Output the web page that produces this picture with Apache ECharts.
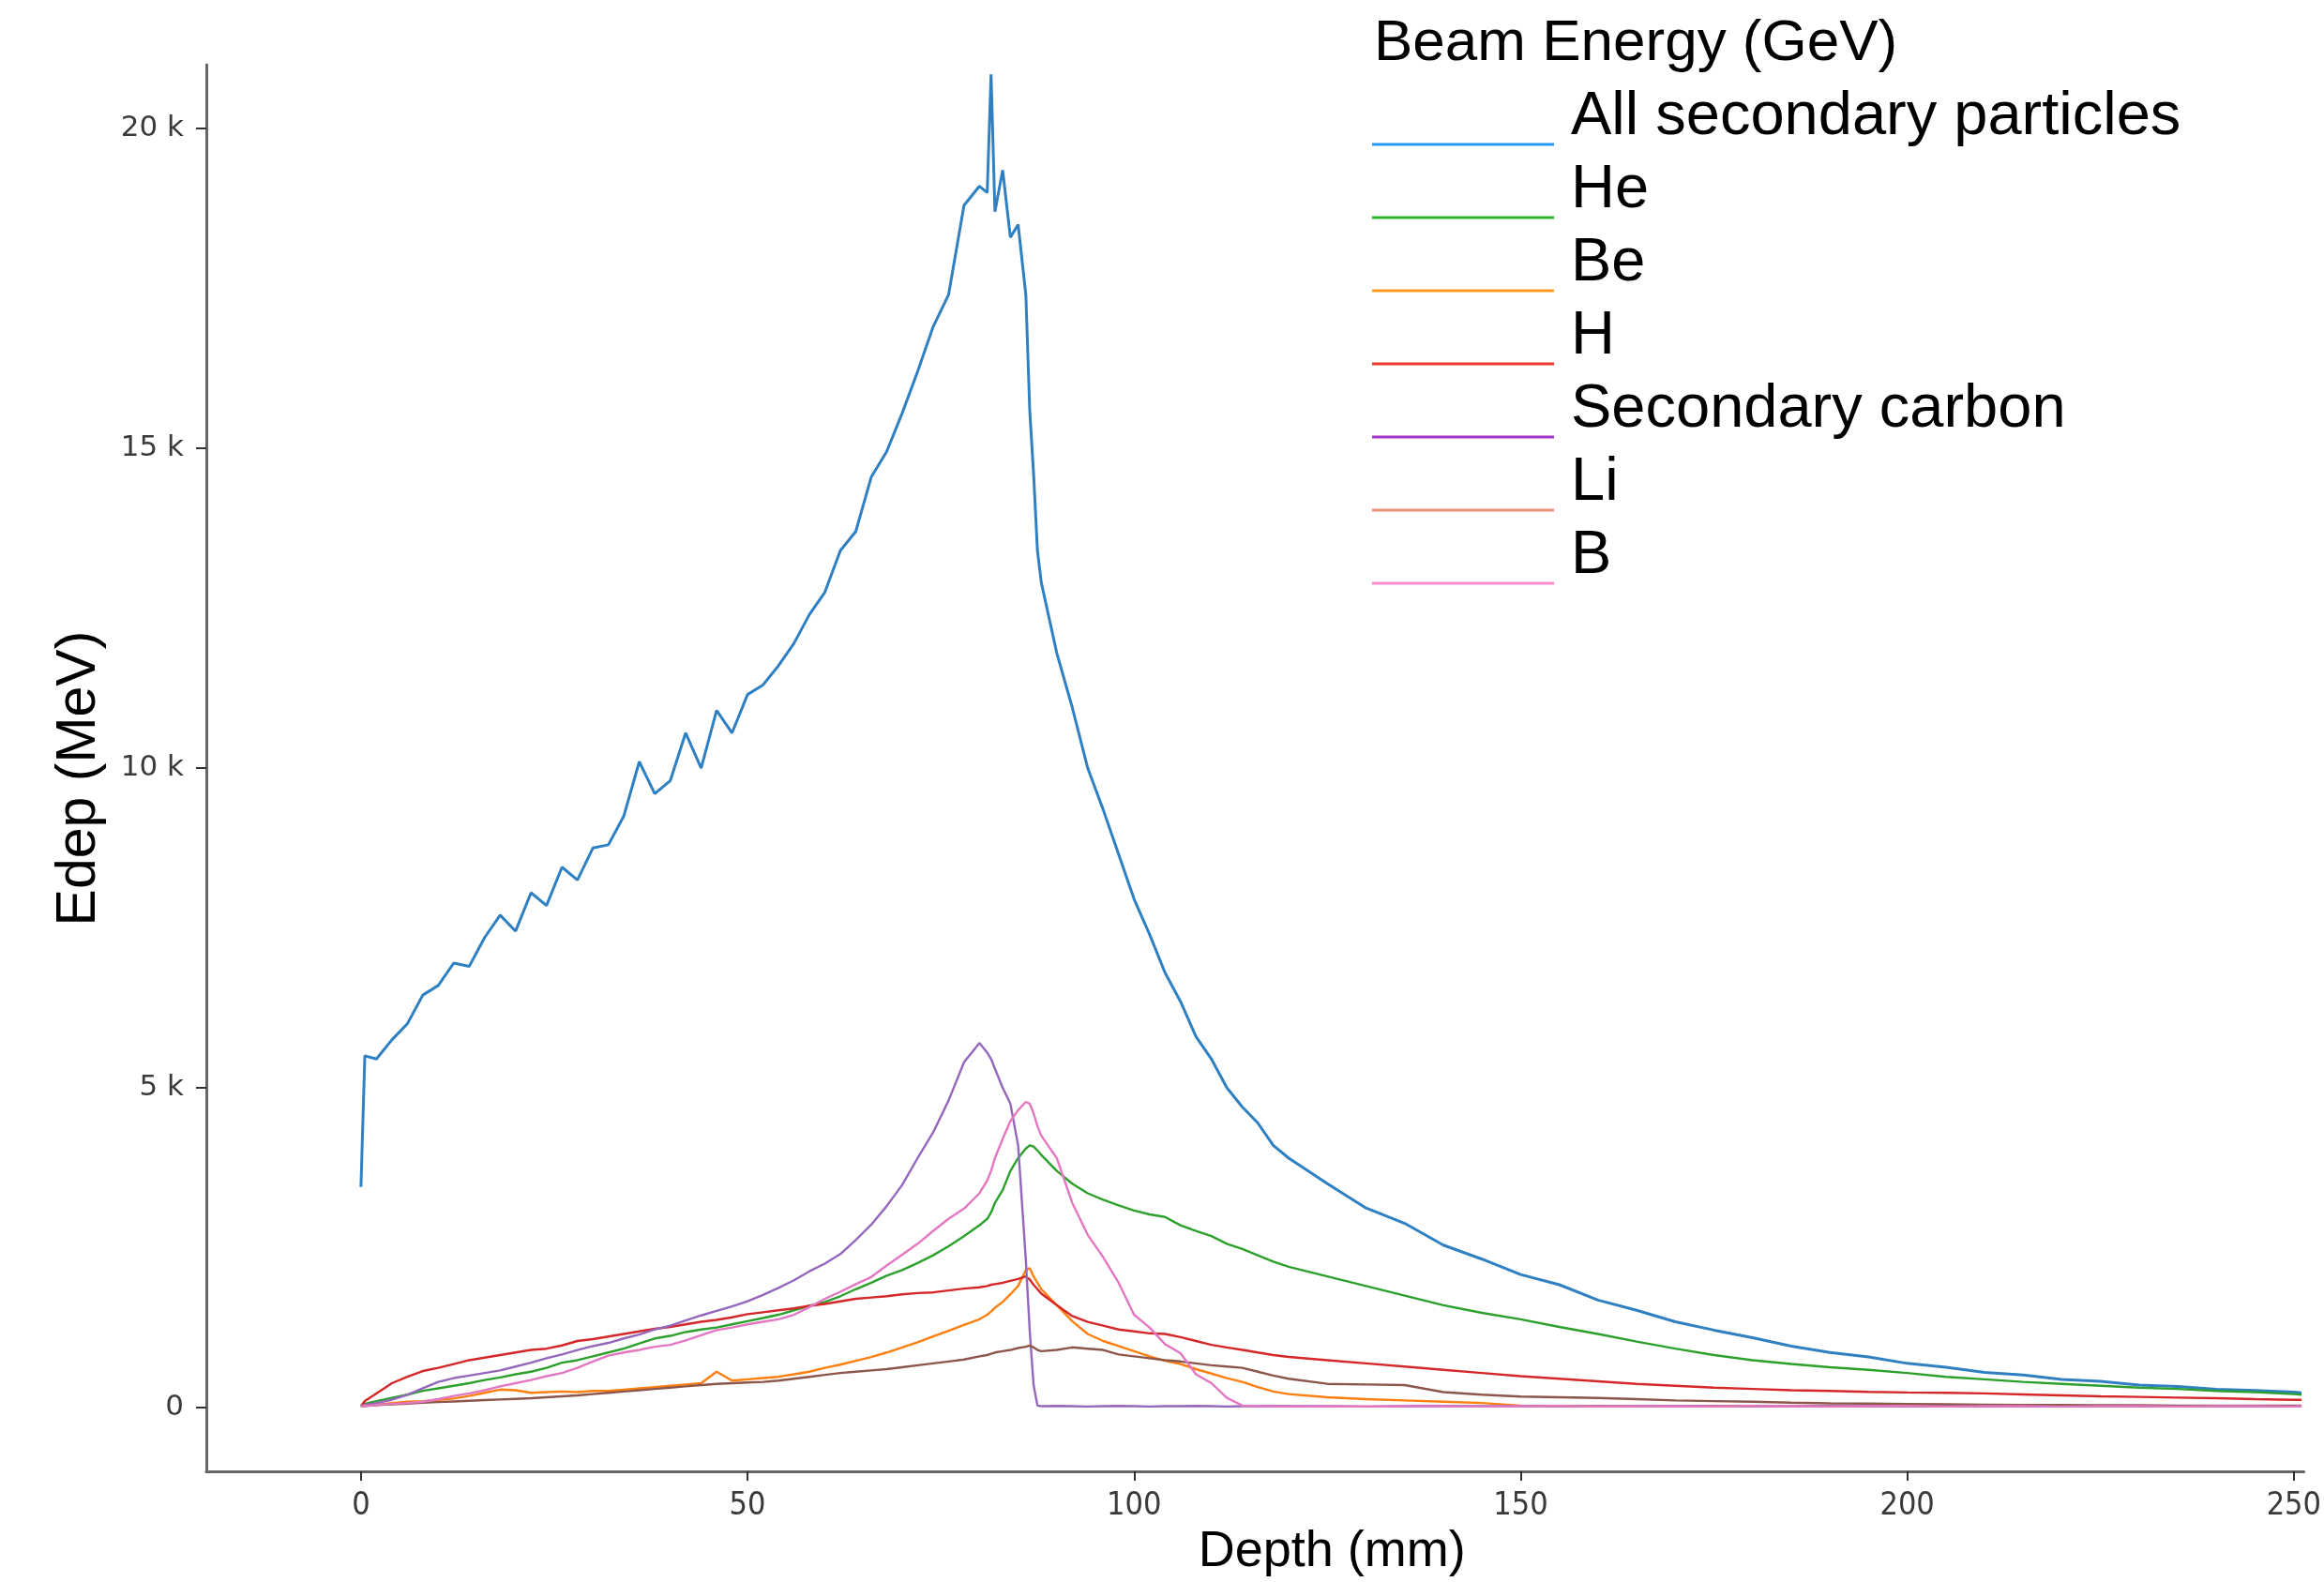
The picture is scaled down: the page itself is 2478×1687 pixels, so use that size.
<!DOCTYPE html>
<html>
<head>
<meta charset="utf-8">
<script src="https://cdn.jsdelivr.net/npm/echarts@6/dist/echarts.min.js"></script>
<style>
  html, body { margin: 0; padding: 0; background: #ffffff; }
  #chart { width: 2478px; height: 1687px; }
</style>
</head>
<body>
<div id="chart"></div>
<script>
// Depth grid (mm), shared by all series
const depth = [0, 0.5, 2, 4, 6, 8, 10, 12, 14, 16, 18, 20, 22, 24, 26, 28, 30, 32, 34, 36, 38, 40,
  42, 44, 46, 48, 50, 52, 54, 56, 58, 60, 62, 64, 66, 68, 70, 72, 74, 76, 78, 80,
  81, 81.5, 82, 83, 84, 85, 86, 86.5, 87, 87.5,
  88, 90, 92, 94, 96, 98, 100, 102, 104, 106, 108, 110, 112, 114, 116, 118, 120,
  125, 130, 135, 140, 145, 150, 155, 160, 165, 170, 175, 180, 185, 190, 195, 200,
  205, 210, 215, 220, 225, 230, 235, 240, 245, 250, 251];

// Energy deposit (MeV) per particle group
const allSecondary = [3450, 5500, 5450, 5750, 6000, 6450, 6600, 6950, 6900, 7350, 7700, 7450, 8050, 7850, 8450, 8250, 8750, 8800, 9250, 10100, 9600, 9800,
  10550, 10000, 10900, 10550, 11150, 11300, 11600, 11950, 12400, 12750, 13400, 13700, 14550, 14950, 15550, 16200, 16900, 17400, 18800, 19100,
  19000, 20850, 18700, 19350, 18300, 18500, 17400, 15600, 14600, 13400,
  12900, 11800, 10950, 10000, 9350, 8650, 7950, 7400, 6800, 6350, 5800, 5450, 5000, 4700, 4450, 4100, 3900,
  3500, 3120, 2880, 2540, 2320, 2080, 1920, 1680, 1520, 1340, 1210, 1090, 960, 860, 790, 690,
  630, 550, 510, 440, 410, 350, 330, 285, 265, 240, 230];

const helium = [20, 60, 100, 150, 200, 260, 300, 340, 380, 430, 470, 520, 560, 620, 700, 740, 800, 860, 920, 1000, 1080, 1120,
  1180, 1220, 1250, 1300, 1350, 1400, 1450, 1520, 1590, 1650, 1740, 1850, 1950, 2060, 2150, 2260, 2380, 2520, 2680, 2850,
  2950, 3050, 3200, 3400, 3700, 3900, 4050, 4100, 4080, 4020,
  3950, 3700, 3500, 3350, 3250, 3160, 3080, 3020, 2980, 2850, 2760, 2680, 2560, 2480, 2380, 2280, 2200,
  2050, 1900, 1750, 1600, 1480, 1380, 1260, 1150, 1030, 920, 820, 740, 680, 630, 590, 540,
  480, 440, 400, 370, 340, 310, 290, 260, 240, 210, 200];

const beryllium = [20, 30, 40, 70, 90, 100, 120, 140, 180, 230, 280, 270, 230, 240, 250, 240, 260, 260, 280, 300, 320, 340,
  360, 380, 560, 420, 440, 460, 480, 520, 560, 620, 670, 730, 790, 860, 940, 1020, 1110, 1200, 1290, 1380,
  1450, 1500, 1560, 1650, 1770, 1900, 2150, 2180, 2050, 1950,
  1850, 1600, 1350, 1150, 1040, 960, 880, 800, 730, 680, 600, 530, 460, 400, 320, 250, 210,
  160, 130, 110, 90, 70, 30, 20, 25, 20, 20, 25, 20, 20, 25, 20, 20,
  20, 25, 20, 20, 20, 25, 20, 20, 20, 20, 20];

const hydrogen = [20, 100, 220, 380, 480, 570, 620, 680, 740, 780, 820, 860, 900, 920, 970, 1040, 1070, 1110, 1150, 1190, 1230, 1260,
  1300, 1340, 1370, 1410, 1460, 1490, 1520, 1550, 1590, 1620, 1660, 1700, 1720, 1740, 1770, 1790, 1800, 1830, 1860, 1880,
  1900, 1920, 1930, 1950, 1980, 2010, 2050, 2000, 1920, 1850,
  1780, 1600, 1430, 1340, 1280, 1220, 1190, 1160, 1150, 1100, 1040, 980, 940, 900, 860, 820, 790,
  740, 690, 640, 590, 540, 490, 450, 410, 370, 340, 310, 290, 270, 260, 245, 235,
  230, 220, 205, 190, 175, 165, 155, 145, 130, 120, 120];

const secondaryCarbon = [20, 40, 70, 120, 200, 300, 400, 460, 500, 540, 580, 640, 700, 770, 830, 900, 960, 1010, 1080, 1140, 1220, 1280,
  1360, 1440, 1510, 1580, 1660, 1760, 1870, 1990, 2130, 2250, 2400, 2620, 2860, 3150, 3480, 3900, 4300, 4800, 5400, 5700,
  5550, 5450, 5300, 5000, 4750, 4100, 2300, 1200, 350, 30,
  20, 25, 20, 15, 20, 25, 20, 15, 20, 20, 25, 20, 15, 20, 20, 25, 20,
  20, 15, 20, 25, 20, 20, 15, 20, 20, 25, 20, 15, 20, 20, 20, 15,
  20, 20, 15, 20, 20, 15, 20, 20, 15, 20, 20];

const lithium = [20, 25, 40, 50, 60, 75, 85, 95, 105, 115, 125, 135, 145, 160, 175, 190, 210, 230, 250, 270, 290, 310,
  330, 350, 370, 380, 390, 400, 420, 450, 480, 510, 540, 560, 580, 600, 630, 660, 690, 720, 750, 800,
  820, 840, 860, 880, 900, 930, 950, 970, 940, 900,
  880, 900, 940, 920, 900, 830, 800, 770, 740, 720, 690, 660, 640, 620, 560, 500, 450,
  370, 360, 350, 240, 200, 170, 160, 150, 130, 110, 100, 90, 75, 65, 60, 55,
  50, 45, 40, 40, 35, 35, 30, 30, 30, 30, 30];

const boron = [20, 25, 40, 55, 70, 90, 130, 180, 220, 270, 330, 380, 430, 490, 540, 620, 720, 810, 860, 900, 950, 980,
  1050, 1130, 1210, 1250, 1300, 1340, 1380, 1450, 1570, 1700, 1810, 1930, 2040, 2220, 2390, 2560, 2760, 2950, 3110, 3350,
  3550, 3700, 3900, 4200, 4480, 4650, 4780, 4750, 4600, 4400,
  4250, 3900, 3200, 2700, 2350, 1950, 1450, 1250, 990, 850, 520, 380, 150, 30, 20, 20, 15,
  20, 15, 20, 20, 15, 20, 20, 15, 20, 20, 15, 20, 20, 15, 20, 20,
  15, 20, 20, 15, 20, 20, 15, 20, 20, 15, 20];

const seriesNames = ['All secondary particles', 'He', 'Be', 'H', 'Secondary carbon', 'Li', 'B'];
const seriesValues = [allSecondary, helium, beryllium, hydrogen, secondaryCarbon, lithium, boron];
const lineColors = ['#2f80c2', '#2ca02c', '#ff7f0e', '#d62728', '#9467bd', '#8c564b', '#e377c2'];
const legendColors = ['#2399ee', '#2eb52e', '#ff9a22', '#ee3a30', '#a733c6', '#e8907c', '#ff8ad0'];
const lineWidths = [3, 2.4, 2.4, 2.4, 2.4, 2.4, 2.4];

const xTicks = [0, 50, 100, 150, 200, 250];
const yTicks = [0, 5000, 10000, 15000, 20000];

const legendTitle = 'Beam Energy (GeV)';
const xTitle = 'Depth (mm)';
const yTitle = 'Edep (MeV)';

const chart = echarts.init(document.getElementById('chart'), null, { renderer: 'canvas' });

const series = seriesNames.map((name, k) => ({
  name: name,
  type: 'line',
  showSymbol: false,
  symbol: 'none',
  animation: false,
  lineStyle: { color: lineColors[k], width: lineWidths[k] },
  itemStyle: { color: lineColors[k] },
  emphasis: { disabled: true },
  data: depth.map((d, i) => [d, seriesValues[k][i]])
}));

const option = {
  backgroundColor: '#ffffff',
  animation: false,
  title: {
    text: legendTitle,
    left: 1465,
    top: 16,
    padding: 0,
    textStyle: { fontFamily: 'Liberation Sans', fontSize: 62, fontWeight: 'normal', color: '#000000', lineHeight: 62 }
  },
  legend: {
    orient: 'vertical',
    left: 1463,
    top: 93,
    padding: 0,
    itemGap: 13,
    itemWidth: 194,
    itemHeight: 60,
    icon: 'path://M0,0L0,0M0,57L194,57L194,60L0,60Z',
    itemStyle: { borderWidth: 0 },
    selectedMode: false,
    textStyle: { fontFamily: 'Liberation Sans', fontSize: 65, color: '#000000', padding: [0, 0, 0, 13] },
    data: seriesNames.map((name, k) => ({ name: name, itemStyle: { color: legendColors[k], borderWidth: 0 } }))
  },
  grid: { left: 220, right: 0, top: 69, bottom: 114, containLabel: false },
  xAxis: {
    type: 'value',
    min: -20,
    max: 251.3,
    name: xTitle,
    nameLocation: 'middle',
    nameGap: 56,
    nameTextStyle: { fontFamily: 'Liberation Sans', fontSize: 54, color: '#000000', padding: [0, 0, 0, 164] },
    axisLine: { onZero: false, lineStyle: { color: '#666666', width: 3 } },
    axisTick: { show: true, inside: false, length: 10, customValues: xTicks, lineStyle: { color: '#333333', width: 2 } },
    axisLabel: {
      customValues: xTicks,
      margin: 20,
      fontFamily: 'DejaVu Sans Condensed',
      fontSize: 34,
      color: '#3a3a3a'
    },
    splitLine: { show: false }
  },
  yAxis: {
    type: 'value',
    min: -1000,
    max: 21000,
    name: yTitle,
    nameLocation: 'middle',
    nameGap: 106,
    nameMoveOverlap: false,
    nameTextStyle: { fontFamily: 'Liberation Sans', fontSize: 59, color: '#000000', padding: [0, 22, 0, 0] },
    axisLine: { onZero: false, lineStyle: { color: '#666666', width: 3 } },
    axisTick: { show: true, inside: false, length: 11, customValues: yTicks, lineStyle: { color: '#333333', width: 2 } },
    axisLabel: {
      customValues: yTicks,
      margin: 24,
      fontFamily: 'DejaVu Sans',
      fontSize: 31,
      color: '#3a3a3a',
      formatter: v => (v === 0 ? '0' : (v / 1000) + ' k')
    },
    splitLine: { show: false }
  },
  series: series
};

chart.setOption(option);
</script>
</body>
</html>
